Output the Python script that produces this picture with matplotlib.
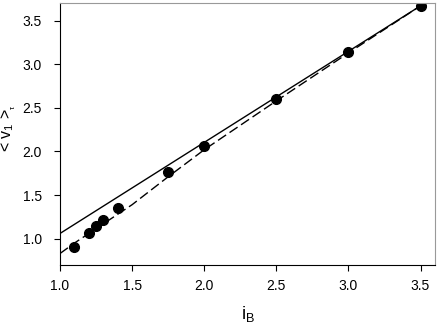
import numpy as np
import matplotlib
matplotlib.use("Agg")
import matplotlib.pyplot as plt

plt.rcParams['font.family'] = ['Liberation Sans', 'DejaVu Sans']
plt.rcParams['mathtext.fontset'] = 'custom'
plt.rcParams['mathtext.rm'] = 'Liberation Sans'
plt.rcParams['mathtext.it'] = 'Liberation Sans'

# measured points
iB = [1.1, 1.2, 1.25, 1.3, 1.4, 1.75, 2.0, 2.5, 3.0, 3.5]
v1 = [0.90, 1.07, 1.14, 1.21, 1.35, 1.77, 2.06, 2.60, 3.14, 3.67]

# solid line (straight)
solid_x = [1.0, 3.5]
solid_y = [1.06, 3.67]

# dashed curve
dash_x = [1.0, 1.1, 1.2, 1.3, 1.4, 1.5, 1.75, 2.0, 2.5, 3.0, 3.5]
dash_y = [0.83, 0.95, 1.06, 1.17, 1.28, 1.39, 1.71, 2.02, 2.58, 3.13, 3.67]

fig = plt.figure(figsize=(4.38, 3.23), dpi=100)
ax = fig.add_axes([0.137, 0.18, 0.856, 0.81])

ax.plot(solid_x, solid_y, color='black', lw=1.0)
ax.plot(dash_x, dash_y, color='black', lw=1.0, dashes=(7, 3))
ax.plot(iB, v1, 'o', color='black', ms=7)

ax.set_xlim(1.0, 3.6)
ax.set_ylim(0.7, 3.7)
ax.set_xticks([1.0, 1.5, 2.0, 2.5, 3.0, 3.5])
ax.set_yticks([1.0, 1.5, 2.0, 2.5, 3.0, 3.5])
ax.xaxis.set_major_formatter(matplotlib.ticker.FormatStrFormatter('%.1f'))
ax.yaxis.set_major_formatter(matplotlib.ticker.FormatStrFormatter('%.1f'))
ax.tick_params(direction='out', length=4, width=0.8, labelsize=10)
ax.tick_params(axis='x', pad=6)
ax.tick_params(axis='y', pad=9)

for s in ['top', 'right']:
    ax.spines[s].set_color('#999999')
for s in ['left', 'bottom']:
    ax.spines[s].set_color('black')

ax.set_xlabel(r'i$_\mathregular{B}$', fontsize=13)
ax.xaxis.set_label_coords(0.5, -0.15)
ax.set_ylabel(r'< v$_\mathregular{1}$ >$_{_\tau}$', fontsize=11.5)
ax.yaxis.set_label_coords(-0.112, 0.523)

fig.savefig('out.png', dpi=100)
